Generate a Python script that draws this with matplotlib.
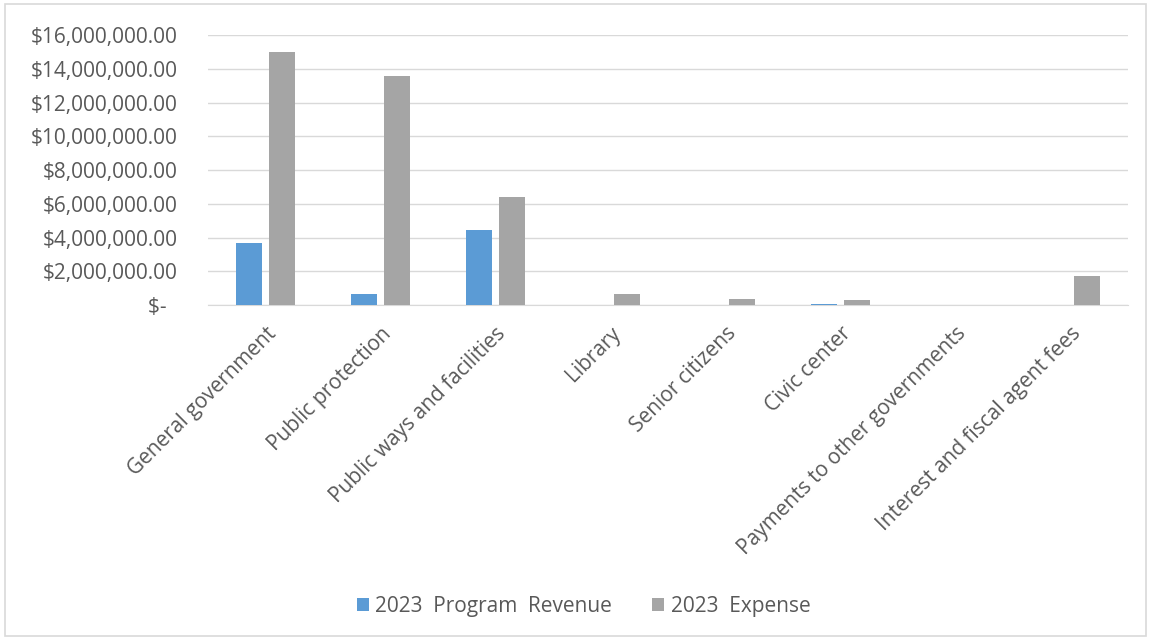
import numpy as np
import matplotlib.pyplot as plt
from matplotlib.ticker import FuncFormatter
from matplotlib.patches import Rectangle

categories = ['General government', 'Public protection', 'Public ways and facilities',
              'Library', 'Senior citizens', 'Civic center',
              'Payments to other governments', 'Interest and fiscal agent fees']
revenue = [3670000, 650000, 4440000, 0, 0, 50000, 0, 0]
expense = [15000000, 13570000, 6420000, 650000, 360000, 300000, 30000, 1720000]

text_color = '#595959'
fs = 15
plt.rcParams['font.family'] = ['Open Sans', 'DejaVu Sans']

fig = plt.figure(figsize=(11.51, 6.4), dpi=100)
ax = fig.add_axes([0.1807, 0.5234, 0.7993, 0.4219])

x = np.arange(len(categories))
w = 0.23
ax.bar(x - 0.145, revenue, w, color='#5b9bd5', label='2023  Program  Revenue', zorder=3)
ax.bar(x + 0.145, expense, w, color='#a5a5a5', label='2023  Expense', zorder=3)

ax.set_xlim(-0.5, len(categories) - 0.5)
ax.set_ylim(0, 16000000)
ax.set_yticks(np.arange(0, 16000001, 2000000))


def money(v, pos):
    if v == 0:
        return '$-  '
    return '${:,.2f}'.format(v)


ax.yaxis.set_major_formatter(FuncFormatter(money))
ax.grid(axis='y', color='#d9d9d9', linewidth=1, zorder=0)
for s in ['top', 'right', 'left']:
    ax.spines[s].set_visible(False)
ax.spines['bottom'].set_color('#d9d9d9')
ax.tick_params(axis='y', length=0, pad=22, labelsize=fs, labelcolor=text_color)
ax.tick_params(axis='x', length=0, pad=13, labelsize=fs, labelcolor=text_color)
ax.set_xticks(x)
ax.set_xticklabels(categories, rotation=45, ha='right', rotation_mode='anchor')

ax.legend(loc='center', bbox_to_anchor=(0.507, 0.053), bbox_transform=fig.transFigure,
          ncol=2, frameon=False, fontsize=fs, labelcolor=text_color,
          handlelength=0.6, handleheight=0.6, handletextpad=0.3, columnspacing=1.9)

fig.patches.append(Rectangle((0.004, 0.006), 0.992, 0.988, transform=fig.transFigure,
                             fill=False, edgecolor='#d9d9d9', linewidth=1.2))

plt.savefig('out.png')
